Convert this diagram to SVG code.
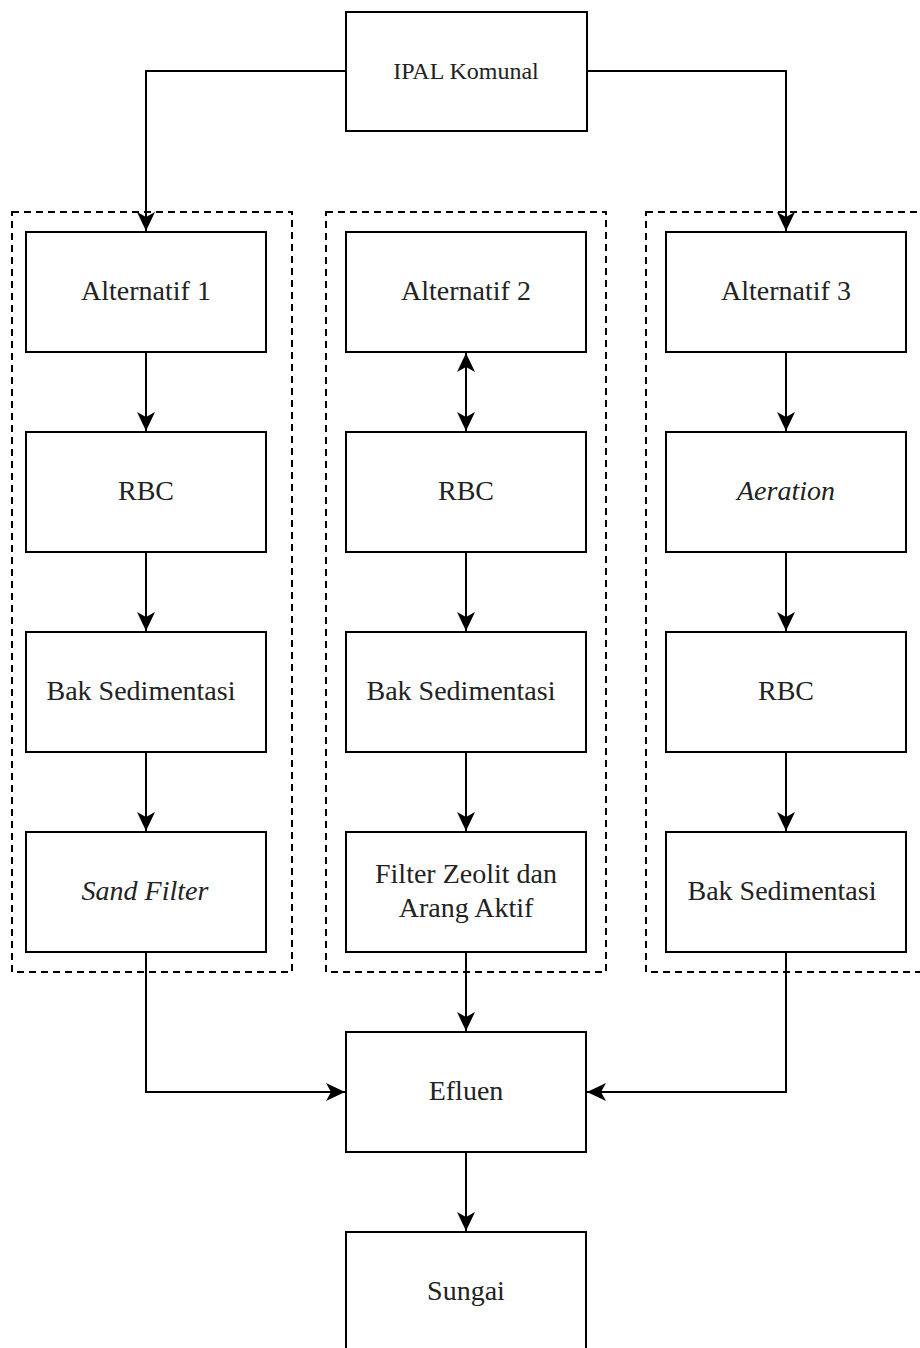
<svg xmlns="http://www.w3.org/2000/svg" width="920" height="1348" viewBox="0 0 920 1348">
  <style>
    .box { fill: #ffffff; stroke: #000000; stroke-width: 2; }
    .group { fill: none; stroke: #000000; stroke-width: 2; stroke-dasharray: 7 5; }
    .edge { fill: none; stroke: #000000; stroke-width: 2; }
    text { font-family: 'Liberation Serif', 'Times New Roman', serif; font-size: 28px; fill: #222222; text-anchor: middle; }
    .small { font-size: 24px; }
    .it { font-style: italic; }
  </style>
  <defs>
    <!-- notched block arrowhead shared by every connector -->
    <marker id="arrow" viewBox="0 0 19 20" refX="19" refY="10" markerWidth="19" markerHeight="20" markerUnits="userSpaceOnUse" orient="auto-start-reverse">
      <path d="M19,10 L0,1 L5,10 L0,19 Z" fill="#000000"/>
    </marker>
  </defs>

  <rect width="920" height="1348" fill="#ffffff"/>

  <!-- dashed alternative groups -->
  <g id="group-alt1"><rect class="group" x="12" y="212" width="280" height="760"/></g>
  <g id="group-alt2"><rect class="group" x="326" y="212" width="280" height="760"/></g>
  <g id="group-alt3"><rect class="group" x="646" y="212" width="280" height="760"/></g>

  <!-- connectors -->
  <g id="connectors">
    <path class="edge" d="M346,71 H146 V231" marker-end="url(#arrow)"/>
    <path class="edge" d="M587,71 H786 V231" marker-end="url(#arrow)"/>
    <path class="edge" d="M146,352 V431" marker-end="url(#arrow)"/>
    <path class="edge" d="M146,552 V631" marker-end="url(#arrow)"/>
    <path class="edge" d="M146,752 V831" marker-end="url(#arrow)"/>
    <path class="edge" d="M466,353 V431" marker-start="url(#arrow)" marker-end="url(#arrow)"/>
    <path class="edge" d="M466,552 V631" marker-end="url(#arrow)"/>
    <path class="edge" d="M466,752 V831" marker-end="url(#arrow)"/>
    <path class="edge" d="M786,352 V431" marker-end="url(#arrow)"/>
    <path class="edge" d="M786,552 V631" marker-end="url(#arrow)"/>
    <path class="edge" d="M786,752 V831" marker-end="url(#arrow)"/>
    <path class="edge" d="M146,952 V1092 H345" marker-end="url(#arrow)"/>
    <path class="edge" d="M466,952 V1031" marker-end="url(#arrow)"/>
    <path class="edge" d="M786,952 V1092 H587" marker-end="url(#arrow)"/>
    <path class="edge" d="M466,1152 V1231" marker-end="url(#arrow)"/>
  </g>

  <g id="ipal"><rect class="box" x="346" y="12" width="241" height="119"/><text class="small" x="466" y="79">IPAL Komunal</text></g>

  <g id="alt1"><rect class="box" x="26" y="232" width="240" height="120"/><text x="146" y="300">Alternatif 1</text></g>
  <g id="rbc1"><rect class="box" x="26" y="432" width="240" height="120"/><text x="146" y="500">RBC</text></g>
  <g id="sed1"><rect class="box" x="26" y="632" width="240" height="120"/><text x="141" y="700">Bak Sedimentasi</text></g>
  <g id="sand1"><rect class="box" x="26" y="832" width="240" height="120"/><text class="it" x="145" y="900">Sand Filter</text></g>

  <g id="alt2"><rect class="box" x="346" y="232" width="240" height="120"/><text x="466" y="300">Alternatif 2</text></g>
  <g id="rbc2"><rect class="box" x="346" y="432" width="240" height="120"/><text x="466" y="500">RBC</text></g>
  <g id="sed2"><rect class="box" x="346" y="632" width="240" height="120"/><text x="461" y="700">Bak Sedimentasi</text></g>
  <g id="zeolit2"><rect class="box" x="346" y="832" width="240" height="120"/><text x="466" y="883">Filter Zeolit dan</text><text x="466" y="917">Arang Aktif</text></g>

  <g id="alt3"><rect class="box" x="666" y="232" width="240" height="120"/><text x="786" y="300">Alternatif 3</text></g>
  <g id="aer3"><rect class="box" x="666" y="432" width="240" height="120"/><text class="it" x="786" y="500">Aeration</text></g>
  <g id="rbc3"><rect class="box" x="666" y="632" width="240" height="120"/><text x="786" y="700">RBC</text></g>
  <g id="sed3"><rect class="box" x="666" y="832" width="240" height="120"/><text x="782" y="900">Bak Sedimentasi</text></g>

  <g id="efluen"><rect class="box" x="346" y="1032" width="240" height="120"/><text x="466" y="1100">Efluen</text></g>
  <g id="sungai"><rect class="box" x="346" y="1232" width="240" height="130"/><text x="466" y="1300">Sungai</text></g>
</svg>
